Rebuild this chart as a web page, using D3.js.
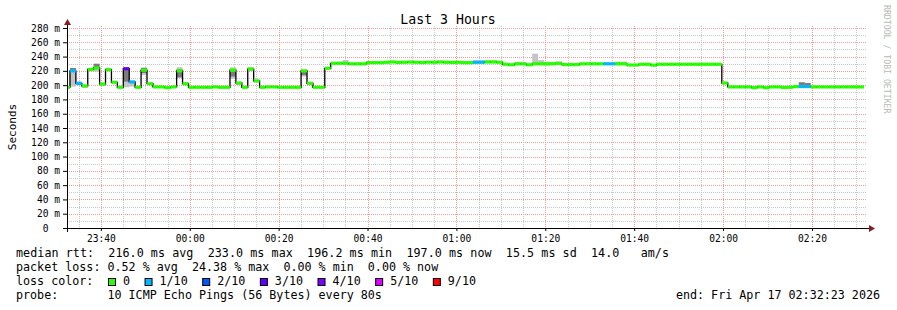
<!DOCTYPE html>
<html>
<head>
<meta charset="utf-8">
<script src="https://cdn.jsdelivr.net/npm/d3@7"></script>
<style>
body { margin: 0; background: #fff; }
text { font-family: "DejaVu Sans Mono", monospace; fill: #000; }
</style>
</head>
<body>
<div id="chart"></div>
<script>
var width = 897;
var height = 310;
var plotLeft = 67, plotRight = 867, plotTop = 28, plotBottom = 228;

var startTime = new Date(2026, 3, 16, 23, 32, 23);
var endTime = new Date(2026, 3, 17, 2, 32, 23);
var stepSec = 80;
var stepOffset = 40; // first step boundary, seconds after start

// median rtt per 80s step (ms)
var median = [
    197, 220, 202.5, 199, 222, 224, 201.5, 221.7, 204, 197,
    223, 204.5, 197, 221, 202, 197.5, 197.5, 196.5, 197.5, 220,
    202, 197, 197, 197, 197, 197.5, 197, 197, 221, 203,
    197, 222.5, 206, 197, 197.5, 197.5, 197, 197, 197, 197,
    220, 202.6, 197, 197, 223.6, 230.6, 230.6, 230.6, 229.9, 229.9,
    229.9, 231.5, 231.5, 231.5, 232, 232.5, 231.8, 232, 232.4, 232,
    231.6, 232.2, 232, 232.5, 232, 231.8, 232, 231.5, 231.5, 232,
    232, 232.4, 232.4, 232, 229.2, 228.5, 229.9, 229.9, 228.5, 229.9,
    229.9, 229.9, 229.9, 230.6, 228.8, 228.8, 228.8, 229.9, 229.9, 229.9,
    229.9, 229.9, 229.9, 229.9, 229.9, 228.2, 228.2, 229.2, 229.2, 228,
    229.2, 229.2, 229.2, 229.2, 229.2, 229.2, 229.2, 229.2, 229.2, 229.2,
    229.2, 203, 197.5, 197.5, 197.5, 197.5, 196.5, 197.5, 196.5, 197.5,
    197.5, 196.8, 197, 198, 198, 198, 197.5, 197.5, 197.5, 197.5,
    197.5, 197.5, 197.5, 197.5, 197.5
];

// lost pings out of 10 per step
var loss = [
    0, 1, 1, 0, 0, 0, 0, 0, 0, 0,
    3, 1, 0, 0, 0, 0, 0, 0, 0, 0,
    0, 0, 0, 0, 0, 0, 0, 0, 0, 0,
    0, 0, 0, 0, 0, 0, 0, 0, 0, 0,
    0, 0, 0, 0, 0, 0, 0, 0, 0, 0,
    0, 0, 0, 0, 0, 0, 0, 0, 0, 0,
    0, 0, 0, 0, 0, 0, 0, 0, 0, 1,
    1, 0, 0, 0, 0, 0, 0, 0, 0, 0,
    0, 0, 0, 0, 0, 0, 0, 0, 0, 0,
    0, 1, 1, 0, 0, 0, 0, 0, 0, 0,
    0, 0, 0, 0, 0, 0, 0, 0, 0, 0,
    0, 0, 0, 0, 0, 0, 0, 0, 0, 0,
    0, 0, 0, 0, 1, 1, 0, 0, 0, 0,
    0, 0, 0, 0, 0
];

// smoke: [step, low ms, high ms]
var smokeLight = [
    [1, 198, 224], [2, 200, 205], [3, 196, 200], [5, 219, 226], [6, 199, 203],
    [10, 197, 224], [11, 198, 206], [13, 214, 225], [14, 200, 203], [19, 210, 225],
    [20, 200, 203], [28, 209, 225], [29, 200, 204], [31, 220, 225], [32, 204, 207],
    [40, 212, 221], [41, 200, 204], [46, 229, 233], [47, 229, 235], [51, 230, 233],
    [56, 231, 234], [60, 231, 234], [62, 231, 234], [64, 231, 234], [66, 231, 233.5],
    [69, 231, 235], [70, 231, 235], [71, 231, 235], [72, 231, 235], [76, 228, 232],
    [77, 228, 232], [79, 228, 244], [80, 228, 235], [81, 228, 233], [82, 228, 232.5],
    [83, 229, 233], [88, 228, 231], [93, 228, 233], [94, 228, 233], [97, 228, 231],
    [112, 196, 199], [124, 197, 204]
];
var smokeDark = [
    [1, 219, 224], [5, 224, 230], [10, 205, 222], [13, 217, 224], [19, 211, 222],
    [28, 212, 219], [40, 214, 220], [48, 228, 230], [49, 228, 230], [50, 228, 230],
    [78, 227, 229], [81, 228, 231], [96, 227, 229], [124, 199, 204], [125, 199, 203]
];

var lossLabels = ["0", "1/10", "2/10", "3/10", "4/10", "5/10", "9/10"];
var lossColors = ["#26ff00", "#00b8ff", "#0059ff", "#5e00ff", "#7e00ff", "#dd00ff", "#ff0000"];
var lossLevels = [0, 1, 2, 3, 4, 5, 9];

var legendLines = [
    "median rtt:  216.0 ms avg  233.0 ms max  196.2 ms min  197.0 ms now  15.5 ms sd  14.0   am/s",
    "packet loss: 0.52 % avg  24.38 % max  0.00 % min  0.00 % now",
    "loss color:",
    "probe:       10 ICMP Echo Pings (56 Bytes) every 80s"
];
var endLabel = "end: Fri Apr 17 02:32:23 2026";

var svg = d3.select("#chart")
    .append("svg")
    .attr("width", width)
    .attr("height", height);

var x = d3.scaleTime().domain([startTime, endTime]).range([plotLeft, plotRight]);
var y = d3.scaleLinear().domain([0, 280]).range([plotBottom, plotTop]);

function stepStart(i) {
    if (i == 0) return startTime;
    return new Date(startTime.getTime() + (stepOffset + (i - 1) * stepSec) * 1000);
}
function stepEnd(i) {
    return new Date(startTime.getTime() + (stepOffset + i * stepSec) * 1000);
}
function colorFor(l) {
    var idx = 0;
    lossLevels.forEach(function(v, k) { if (l >= v) idx = k; });
    return lossColors[idx];
}

// grid
var grid = svg.append("g").attr("class", "grid");
var minorTimes = d3.timeMinute.every(5).range(startTime, endTime);
var majorTimes = d3.timeMinute.every(20).range(startTime, endTime);
grid.selectAll(".vminor")
    .data(minorTimes)
    .enter()
    .append("line")
    .attr("x1", function(d) { return Math.round(x(d)) + 0.5; })
    .attr("x2", function(d) { return Math.round(x(d)) + 0.5; })
    .attr("y1", plotTop - 2)
    .attr("y2", plotBottom)
    .attr("stroke", "#c8c8c8")
    .attr("stroke-dasharray", "1,1");
var yMinor = d3.range(10, 281, 10);
grid.selectAll(".hminor")
    .data(yMinor)
    .enter()
    .append("line")
    .attr("x1", plotLeft)
    .attr("x2", plotRight)
    .attr("y1", function(d) { return Math.round(y(d)) + 0.5; })
    .attr("y2", function(d) { return Math.round(y(d)) + 0.5; })
    .attr("stroke", function(d) { return d % 20 == 0 ? "#f09a9a" : "#c8c8c8"; })
    .attr("stroke-dasharray", "1,1");
grid.selectAll(".vmajor")
    .data(majorTimes)
    .enter()
    .append("line")
    .attr("x1", function(d) { return Math.round(x(d)) + 0.5; })
    .attr("x2", function(d) { return Math.round(x(d)) + 0.5; })
    .attr("y1", plotTop - 2)
    .attr("y2", plotBottom)
    .attr("stroke", "#f09a9a")
    .attr("stroke-dasharray", "1,1");

// smoke
var smoke = svg.append("g").attr("class", "smoke");
function drawSmoke(list, color) {
    smoke.selectAll(null)
        .data(list)
        .enter()
        .append("rect")
        .attr("x", function(d) { return x(stepStart(d[0])); })
        .attr("width", function(d) { return x(stepEnd(d[0])) - x(stepStart(d[0])); })
        .attr("y", function(d) { return y(d[2]); })
        .attr("height", function(d) { return y(d[1]) - y(d[2]); })
        .attr("fill", color);
}
drawSmoke(smokeLight, "#c4c4c4");
drawSmoke(smokeDark, "#7c7c7c");

// black median step line
var pts = median.map(function(m, i) { return [stepStart(i), m]; });
pts.push([stepEnd(median.length - 1), median[median.length - 1]]);
svg.append("path")
    .datum(pts)
    .attr("fill", "none")
    .attr("stroke", "#000")
    .attr("stroke-width", 1.3)
    .attr("d", d3.line()
        .curve(d3.curveStepAfter)
        .x(function(d) { return x(d[0]); })
        .y(function(d) { return y(d[1]); }));

// loss-colored median segments
svg.append("g")
    .selectAll("line")
    .data(d3.range(median.length))
    .enter()
    .append("line")
    .attr("x1", function(i) { return x(stepStart(i)); })
    .attr("x2", function(i) { return x(stepEnd(i)); })
    .attr("y1", function(i) { return y(median[i]); })
    .attr("y2", function(i) { return y(median[i]); })
    .attr("stroke", function(i) { return colorFor(loss[i]); })
    .attr("stroke-width", 3.2);

// axes
var xAxis = svg.append("g")
    .attr("transform", "translate(0," + plotBottom + ")")
    .call(d3.axisBottom(x)
        .ticks(d3.timeMinute.every(20))
        .tickFormat(d3.timeFormat("%H:%M"))
        .tickSize(3)
        .tickPadding(4));
xAxis.select(".domain").remove();
xAxis.selectAll("text")
    .attr("font-family", "DejaVu Sans Mono")
    .attr("font-size", "9.6px");

var yAxis = svg.append("g")
    .attr("transform", "translate(" + plotLeft + ",0)")
    .call(d3.axisLeft(y)
        .tickValues(d3.range(0, 281, 20))
        .tickFormat(function(d) { return d == 0 ? "0" : d + " m"; })
        .tickSize(4)
        .tickPadding(3));
yAxis.select(".domain").remove();
yAxis.selectAll("text")
    .attr("font-family", "DejaVu Sans Mono")
    .attr("font-size", "9.6px")
    .attr("dx", function(d) { return d == 0 ? -11.6 : 0; });

svg.append("line")
    .attr("x1", plotLeft - 4).attr("x2", plotRight + 2)
    .attr("y1", plotBottom + 0.5).attr("y2", plotBottom + 0.5)
    .attr("stroke", "#000");
svg.append("line")
    .attr("x1", plotLeft + 0.5).attr("x2", plotLeft + 0.5)
    .attr("y1", plotBottom + 4).attr("y2", plotTop - 4)
    .attr("stroke", "#000");
svg.append("path")
    .attr("d", "M" + (plotRight + 2) + "," + (plotBottom - 3) + "L" + (plotRight + 8) + "," + (plotBottom + 0.5) + "L" + (plotRight + 2) + "," + (plotBottom + 4) + "Z")
    .attr("fill", "#8b1a1a");
svg.append("path")
    .attr("d", "M" + (plotLeft - 3) + "," + (plotTop - 3) + "L" + (plotLeft + 0.5) + "," + (plotTop - 9) + "L" + (plotLeft + 4) + "," + (plotTop - 3) + "Z")
    .attr("fill", "#8b1a1a");

// titles
svg.append("text")
    .attr("x", 448)
    .attr("y", 23.5)
    .attr("text-anchor", "middle")
    .attr("font-size", "13.2px")
    .text("Last 3 Hours");

svg.append("text")
    .attr("transform", "translate(15.5,127) rotate(-90)")
    .attr("text-anchor", "middle")
    .attr("font-size", "11px")
    .text("Seconds");

svg.append("text")
    .attr("transform", "translate(884,5) rotate(90)")
    .attr("font-size", "8.2px")
    .style("fill", "#b8b8b8")
    .text("RRDTOOL / TOBI OETIKER");

// legend
var legText = svg.selectAll(".legline")
    .data(legendLines)
    .enter()
    .append("text")
    .attr("class", "legline")
    .attr("x", 16)
    .attr("y", function(d, i) { return 257 + i * 14; })
    .attr("font-size", "11.7px")
    .attr("xml:space", "preserve")
    .style("white-space", "pre")
    .text(function(d) { return d; });
// rrdtool spreads the first row a little wider
legText.filter(function(d, i) { return i == 0; })
    .attr("textLength", 653)
    .attr("lengthAdjust", "spacing");

var bx = 108;
lossLabels.forEach(function(lbl, k) {
    svg.append("rect")
        .attr("x", bx + 0.5)
        .attr("y", 278.5)
        .attr("width", 7)
        .attr("height", 7)
        .attr("fill", lossColors[k])
        .attr("stroke", "#000");
    var t = svg.append("text")
        .attr("x", bx + 15)
        .attr("y", 285)
        .attr("font-size", "11.7px")
        .text(lbl);
    bx = bx + 15 + t.node().getComputedTextLength() + 14.5;
});

svg.append("text")
    .attr("x", 880)
    .attr("y", 299)
    .attr("text-anchor", "end")
    .attr("font-size", "11.7px")
    .text(endLabel);
</script>
</body>
</html>
